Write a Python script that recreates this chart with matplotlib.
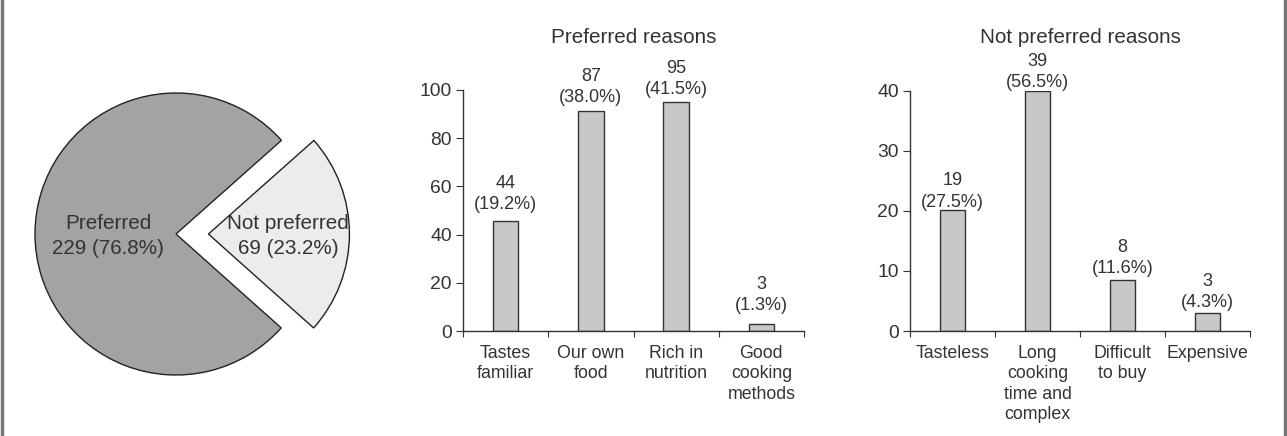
import matplotlib
matplotlib.use("Agg")
import matplotlib.pyplot as plt
from matplotlib.lines import Line2D
import numpy as np

plt.rcParams['font.family'] = ['Liberation Sans', 'DejaVu Sans']

# Pie data
pie_labels = ["Not preferred", "Preferred"]
pie_counts = [69, 229]
pie_pcts = [23.2, 76.8]

# Preferred reasons
pref_cats = ["Tastes\nfamiliar", "Our own\nfood", "Rich in\nnutrition", "Good\ncooking\nmethods"]
pref_heights = [45.6, 91.4, 95, 2.9]     # bar heights as drawn
pref_counts = [44, 87, 95, 3]
pref_pcts = ["19.2%", "38.0%", "41.5%", "1.3%"]

# Not preferred reasons
notp_cats = ["Tasteless", "Long\ncooking\ntime and\ncomplex", "Difficult\nto buy", "Expensive"]
notp_heights = [20.1, 40, 8.5, 3.05]
notp_counts = [19, 39, 8, 3]
notp_pcts = ["27.5%", "56.5%", "11.6%", "4.3%"]

# label offsets above bars (points), style only
pref_label_gap = [5.5, 3.4, 2.7, 7.0]
notp_label_gap = [-0.2, -0.4, 1.9, 1.2]

W, H = 1287, 436
fig = plt.figure(figsize=(W / 100, H / 100), dpi=100)
txt = '#333333'

# Side border lines
fig.add_artist(Line2D([2 / W, 2 / W], [0, 1], color='#777777', lw=2.5, transform=fig.transFigure))
fig.add_artist(Line2D([1 - 2 / W, 1 - 2 / W], [0, 1], color='#777777', lw=2.5, transform=fig.transFigure))

# Pie axes: center (176,234), radius 141
r = 141
cx, cy = 176, 234
axp = fig.add_axes([(cx - r - 40) / W, (H - cy - r - 40) / H, (2 * r + 80) / W, (2 * r + 80) / H])
start = -pie_pcts[0] / 100 * 360 / 2
wedges, _ = axp.pie(pie_counts, startangle=start, colors=['#ececec', '#a3a3a3'],
                    explode=[0.23, 0], radius=1,
                    wedgeprops=dict(edgecolor='#222222', linewidth=1.0))
axp.set_xlim(-1 - 40 / r, 1 + 40 / r)
axp.set_ylim(-1 - 40 / r, 1 + 40 / r)
axp.set_aspect('equal')
axp.axis('off')
ty = -2 / r
axp.text((108 - cx) / r, ty, f"{pie_labels[1]}\n{pie_counts[1]} ({pie_pcts[1]}%)",
         ha='center', va='center', fontsize=14.9, color=txt, linespacing=1.35)
axp.text((288 - cx) / r, ty, f"{pie_labels[0]}\n{pie_counts[0]} ({pie_pcts[0]}%)",
         ha='center', va='center', fontsize=14.9, color=txt, linespacing=1.35)


def bar_panel(rect, cats, heights, counts, pcts, gaps, ymax, yticks, title):
    ax = fig.add_axes(rect)
    x = np.arange(len(cats))
    ax.bar(x, heights, width=0.3, color='#c8c8c8', edgecolor='#333333', linewidth=1.0)
    ax.set_xlim(-0.5, len(cats) - 0.5)
    ax.set_ylim(0, ymax)
    ax.set_yticks(yticks)
    ax.set_yticklabels([str(t) for t in yticks], fontsize=13.9, color=txt)
    ax.set_xticks(np.arange(len(cats) + 1) - 0.5)
    ax.set_xticklabels([])
    ax.tick_params(axis='x', length=4, direction='out', color='#333333')
    ax.tick_params(axis='y', length=5, direction='out', color='#333333', pad=3)
    for i, c in enumerate(cats):
        ax.annotate(c, xy=(i, 0), xycoords='data', xytext=(0, -10), textcoords='offset points',
                    ha='center', va='top', fontsize=12.8, color=txt, linespacing=1.27)
    for s in ['top', 'right']:
        ax.spines[s].set_visible(False)
    for s in ['left', 'bottom']:
        ax.spines[s].set_color('#333333')
        ax.spines[s].set_linewidth(1.0)
    for i, (h, c, p, g) in enumerate(zip(heights, counts, pcts, gaps)):
        ax.annotate(f"{c}\n({p})", xy=(i, h), xycoords='data', xytext=(0, g),
                    textcoords='offset points', ha='center', va='bottom', fontsize=13,
                    color=txt, linespacing=1.31)
    ax.set_title(title, fontsize=14.9, color=txt, pad=34)
    return ax


bar_panel([463 / W, (H - 331) / H, 341 / W, 241 / H], pref_cats, pref_heights, pref_counts,
          pref_pcts, pref_label_gap, 100, [0, 20, 40, 60, 80, 100], "Preferred reasons")
bar_panel([910 / W, (H - 331) / H, 340 / W, 240.3 / H], notp_cats, notp_heights, notp_counts,
          notp_pcts, notp_label_gap, 40, [0, 10, 20, 30, 40], "Not preferred reasons")

fig.savefig("out.png", dpi=100)
